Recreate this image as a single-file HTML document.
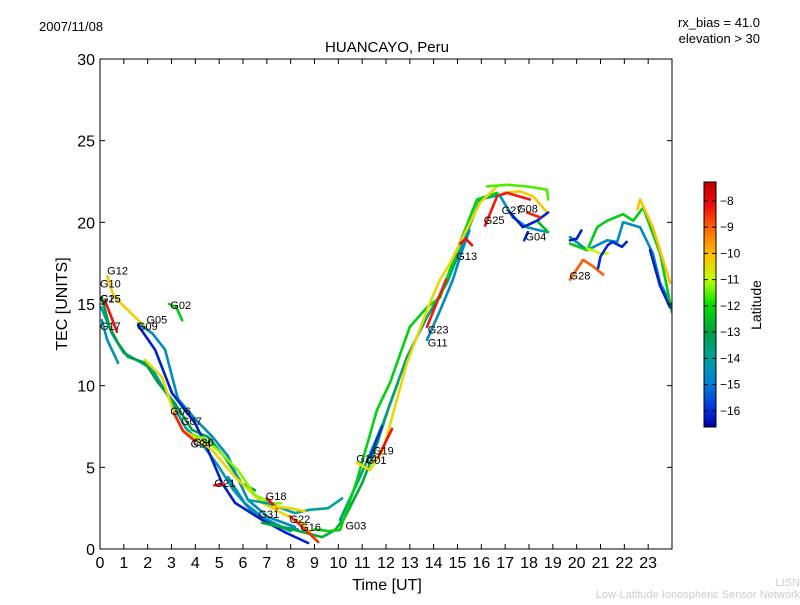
<!DOCTYPE html>
<html><head><meta charset="utf-8"><style>
body{margin:0;background:#fff;}
svg text{font-family:"Liberation Sans","DejaVu Sans",sans-serif;}
</style></head><body>
<svg id="chart" width="800" height="600" xmlns="http://www.w3.org/2000/svg">
<defs>
<linearGradient id="cbgrad" x1="0" y1="1" x2="0" y2="0">
<stop offset="0" stop-color="#0000a0"/><stop offset="0.07" stop-color="#0030e0"/><stop offset="0.18" stop-color="#0080d0"/><stop offset="0.28" stop-color="#00a0a0"/><stop offset="0.39" stop-color="#00a040"/><stop offset="0.5" stop-color="#00e000"/><stop offset="0.6" stop-color="#c0ff00"/><stop offset="0.7" stop-color="#ffc000"/><stop offset="0.8" stop-color="#ff7000"/><stop offset="0.9" stop-color="#f01010"/><stop offset="1" stop-color="#c00000"/>
</linearGradient>
<clipPath id="plotclip"><rect x="100" y="59" width="572" height="490"/></clipPath>
</defs>
<text x="39" y="31" font-size="13">2007/11/08</text>
<text x="760" y="27" font-size="13" text-anchor="end">rx_bias = 41.0</text>
<text x="760" y="43" font-size="13" text-anchor="end">elevation &gt; 30</text>
<text x="387" y="52" font-size="15" text-anchor="middle">HUANCAYO, Peru</text>
<g id="series" clip-path="url(#plotclip)"></g>
<g id="labels"></g>
<rect x="100" y="59" width="572" height="490" fill="none" stroke="#000" stroke-width="1"/>
<g id="axes"></g>
<text x="387" y="590" font-size="16" text-anchor="middle">Time [UT]</text>
<text x="67" y="304" font-size="16" text-anchor="middle" transform="rotate(-90 67 304)">TEC [UNITS]</text>
<rect x="704" y="182" width="12" height="245" fill="url(#cbgrad)" stroke="#000" stroke-width="1"/>
<g id="cbticks"></g>
<text x="761" y="305" font-size="14" text-anchor="middle" transform="rotate(-90 761 305)">Latitude</text>
<text x="800" y="586" font-size="11" fill="#ccc" text-anchor="end">LISN</text>
<text x="800" y="598" font-size="11" fill="#ccc" text-anchor="end">Low-Latitude Ionospheric Sensor Network</text>
</svg>
<script>
const xTicks=[0,1,2,3,4,5,6,7,8,9,10,11,12,13,14,15,16,17,18,19,20,21,22,23];
const yTicks=[0,5,10,15,20,25,30];
const cbTicks=[-8,-9,-10,-11,-12,-13,-14,-15,-16];
// each series: [lat, [t,tec]...]
const sG17=[-14.5,[[0.08,14],[0.3,12.8],[0.76,11.4]]];
const sG15=[-8,[[0.21,15.2],[0.45,14.3],[0.71,13.3]]];
const sGreenB=[-13,[[0.08,15.4],[0.4,13.6],[0.76,12.6],[1.17,11.76],[1.89,11.4],[2.43,10.2],[3.15,8.9],[3.86,7.3],[4.53,6.86],[5.25,5.6],[5.96,4.0],[6.5,3.6]]];
const sTealEarly=[-14.2,[[0.05,14.8],[0.5,13.2],[1.0,12.0],[1.5,11.6],[2.2,11.0],[3.0,9.0],[3.6,7.4],[4.3,6.4],[5.0,5.0],[5.6,3.6],[6.3,2.4],[7.2,1.6],[8.0,1.1]]];
const sG12=[-10.2,[[0.3,16.7],[0.5,15.8],[0.63,15.4],[1.47,14.2],[1.89,13.6]]];
const sG05=[-14.6,[[1.6,13.8],[2.2,13.2],[2.73,12.2],[3.27,9.2],[3.99,7.96],[4.7,6.9],[5.37,5.69],[5.79,4.29],[6.21,3.0],[7.05,1.96],[8.18,1.35]]];
const sG09=[-16.2,[[1.6,13.7],[2.31,12.2],[3.02,9.55],[3.99,7.7],[4.53,6.06],[5.12,4.04],[5.67,2.82],[6.8,1.78],[7.8,1.0],[8.73,0.37]]];
const sYellow=[-10.4,[[1.89,11.57],[2.6,10.53],[3.02,8.7],[3.44,7.29],[3.99,6.86],[4.7,6.06],[5.67,4.41],[6.8,2.82],[7.64,2.2],[8.48,1.59],[9.15,0.43]]];
const sG06=[-8.2,[[3.1,8.3],[3.5,7.2],[4.0,6.6]]];
const sG02=[-12.3,[[2.9,15.0],[3.2,14.8],[3.45,14.0]]];
const sG30=[-11.3,[[3.9,7.0],[4.3,6.8],[5.0,6.0],[5.8,4.8],[6.5,3.3],[7.2,2.8],[7.6,2.8]]];
const sG21=[-8,[[4.8,3.9],[5.2,4.0]]];
const sG31=[-14.6,[[5.37,4.4],[6.08,2.8],[6.8,1.96],[7.64,1.35],[8.3,1.2]]];
const sG18top=[-14,[[6.21,3.0],[7.05,2.8],[8.18,2.2],[8.8,2.4],[9.57,2.5],[10.16,3.1]]];
const sG18=[-8,[[7.0,3.1],[7.43,2.5]]];
const sG18y=[-10.3,[[7.3,2.6],[8.0,2.5],[8.6,2.3]]];
const sG22=[-8.3,[[7.97,2.0],[8.6,1.2],[9.15,0.43]]];
const sLowGreen=[-12.8,[[6.8,1.6],[8.18,1.16],[9.32,0.73],[9.86,1.16],[10.28,1.96],[11.0,4.04],[11.54,6.06],[12.1,8.6],[12.5,10.2]]];
const sRise1=[-12.2,[[9.0,1.2],[9.6,1.1],[10.07,1.16],[10.78,4.2],[11.62,8.5],[12.17,10.2],[13.0,13.6],[13.72,14.8],[14.27,15.4],[14.98,18.3],[15.82,21.4],[16.66,21.8]]];
const sRise2=[-13.6,[[10.07,1.78],[10.91,4.4],[11.88,7.7],[12.88,11.76],[13.72,14.2],[14.56,16.3],[15.11,18.3],[15.95,21.4],[16.79,21.7]]];
const sRiseY=[-10.4,[[10.78,5.27],[11.33,4.84],[11.88,6.06],[12.88,11.4],[13.85,15.1],[14.27,16.5],[14.69,17.5],[15.23,19.1],[15.95,21.2],[16.66,22.2]]];
const sG11=[-14.7,[[13.72,12.8],[14.27,14.6],[14.81,16.5],[15.11,17.9],[15.5,19.5]]];
const sG19b=[-16,[[11.33,5.6],[11.83,7.5]]];
const sG19r=[-8,[[11.67,5.6],[12.25,7.35]]];
const sG23=[-8.1,[[13.72,13.6],[14.52,16.5]]];
const sG13=[-8,[[15.11,18.7],[15.35,19.0],[15.61,18.6]]];
const sPeakG=[-11.6,[[16.24,22.2],[17.08,22.3],[17.92,22.2],[18.76,22.0],[18.8,21.4]]];
const sPeakY=[-10.2,[[16.91,21.8],[17.62,21.9],[18.17,21.6],[18.76,20.6]]];
const sG25=[-8.1,[[16.16,19.8],[16.66,21.6],[17.08,21.8],[18.04,21.4]]];
const sG04t=[-14.5,[[16.79,21.6],[17.33,20.3],[17.92,19.7],[18.46,19.5],[18.8,19.4]]];
const sG04b=[-16.2,[[17.2,20.6],[17.75,19.7],[18.34,20.1],[18.8,20.6]]];
const sG04s=[-16,[[17.8,18.9],[17.95,19.4]]];
const sG08=[-8.2,[[17.92,20.6],[18.46,20.3]]];
const sG13g=[-12.6,[[18.4,20.0],[18.8,19.4]]];
const sRTeal=[-14.6,[[19.72,19.1],[20.44,18.3],[21.28,18.9],[21.7,18.8],[21.95,20.0],[22.66,19.7],[23.2,18.1],[23.5,16.3],[23.92,15.1]]];
const sRGreen=[-12.3,[[19.72,18.7],[20.44,18.3],[20.86,19.7],[21.28,20.1],[21.95,20.5],[22.37,20.1],[22.79,20.9],[23.5,18.1],[24,14.5]]];
const sRYG=[-11,[[20.44,18.4],[21.0,18.1],[21.3,18.1]]];
const sRYellow=[-10,[[22.55,20.8],[22.66,21.4],[23.2,19.7],[23.92,16.3]]];
const sG28=[-8.8,[[19.72,16.5],[20.27,17.7],[20.69,17.3],[21.11,16.8]]];
const sRBlue1=[-16.2,[[19.72,18.9],[20.0,19.0],[20.2,19.5]]];
const sRBlue2=[-16.1,[[20.9,17.2],[21.0,17.9],[21.3,18.6],[21.5,18.8],[21.9,18.5],[22.1,18.8]]];
const sRBlue3=[-16.2,[[23.08,18.3],[23.5,16.1],[23.92,14.8]]];
const allSeries=[sG17,sTealEarly,sG15,sGreenB,sG12,sG05,sG09,sYellow,sG06,sG02,sG30,sG21,sG31,sG18top,sLowGreen,sG18,sG18y,sG22,sRise2,sRise1,sRiseY,sG11,sG19b,sG19r,sG23,sG13,sPeakG,sPeakY,sG25,sG04t,sG04b,sG04s,sG08,sG13g,sRTeal,sRGreen,sRYG,sRYellow,sG28,sRBlue1,sRBlue2,sRBlue3];
const labelNames=["G12","G10","G15","G25","G17","G05","G09","G02","G06","G07","G30","G24","G21","G18","G31","G22","G16","G03","G14","G01","G19","G23","G11","G13","G25","G27","G08","G04","G28"];
const labelT=[0.3,0.0,0.0,0.0,0.0,1.95,1.55,2.95,2.95,3.4,3.9,3.8,4.8,6.95,6.65,7.95,8.4,10.3,10.75,11.15,11.45,13.75,13.75,14.95,16.1,16.85,17.5,17.85,19.7];
const labelTec=[16.8,16.0,15.1,15.1,13.4,13.8,13.4,14.7,8.2,7.6,6.3,6.2,3.8,3.0,1.9,1.6,1.1,1.2,5.3,5.2,5.8,13.2,12.4,17.7,19.9,20.5,20.6,18.9,16.5];
const NS="http://www.w3.org/2000/svg";
const X=t=>100+t*572/24, Y=v=>549-v*490/30;
const CB=l=>182+(-7.28-l)*26.25;
const stops=[[-16.6,[0,0,160]],[-16,[0,48,224]],[-15,[0,128,208]],[-14,[0,160,160]],[-13,[0,160,64]],[-12,[0,224,0]],[-11,[192,255,0]],[-10,[255,192,0]],[-9,[255,112,0]],[-8,[240,16,16]],[-7.3,[192,0,0]]];
function col(l){for(let i=0;i<stops.length-1;i++){const a=stops[i],b=stops[i+1];if(l<=b[0]){const f=Math.max(0,(l-a[0])/(b[0]-a[0]));const c=a[1].map((v,k)=>Math.round(v+(b[1][k]-v)*f));return `rgb(${c})`;}}return 'rgb(192,0,0)';}
const sg=document.getElementById('series');
allSeries.forEach((s,i)=>{const p=document.createElementNS(NS,'polyline');
p.setAttribute('points',s[1].map(d=>X(d[0]).toFixed(1)+','+Y(d[1]).toFixed(1)).join(' '));
p.setAttribute('fill','none');p.setAttribute('stroke',col(s[0]));p.setAttribute('stroke-width','2.6');p.setAttribute('stroke-linejoin','round');p.setAttribute('stroke-linecap','round');


sg.appendChild(p);});
const lg=document.getElementById('labels');
labelNames.forEach((n,i)=>{const t=document.createElementNS(NS,'text');
t.setAttribute('x',X(labelT[i]));t.setAttribute('y',Y(labelTec[i]));t.setAttribute('font-size','11');t.textContent=n;


lg.appendChild(t);});
const ax=document.getElementById('axes');
function line(x1,y1,x2,y2,g){const l=document.createElementNS(NS,'line');l.setAttribute('x1',x1);l.setAttribute('y1',y1);l.setAttribute('x2',x2);l.setAttribute('y2',y2);l.setAttribute('stroke','#000');l.setAttribute('stroke-width','1');


g.appendChild(l);}
function txt(x,y,s,fs,anchor,g,name){const t=document.createElementNS(NS,'text');t.setAttribute('x',x);t.setAttribute('y',y);t.setAttribute('font-size',fs);t.setAttribute('text-anchor',anchor);t.textContent=s;


g.appendChild(t);}
xTicks.forEach(v=>{const x=X(v);line(x,549,x,544,ax);line(x,59,x,64,ax);txt(x,568,String(v),16,'middle',ax,'x-tick-label');});
yTicks.forEach(v=>{const y=Y(v);line(100,y,105,y,ax);line(672,y,667,y,ax);txt(95,y+6,String(v),16,'end',ax,'y-tick-label');});
const cg=document.getElementById('cbticks');
cbTicks.forEach(v=>{const y=CB(v);line(716,y,712,y,cg);line(704,y,708,y,cg);txt(720,y+4,'\u2212'+Math.abs(v),12,'start',cg,'colorbar-tick-label');});
</script>
</body></html>
